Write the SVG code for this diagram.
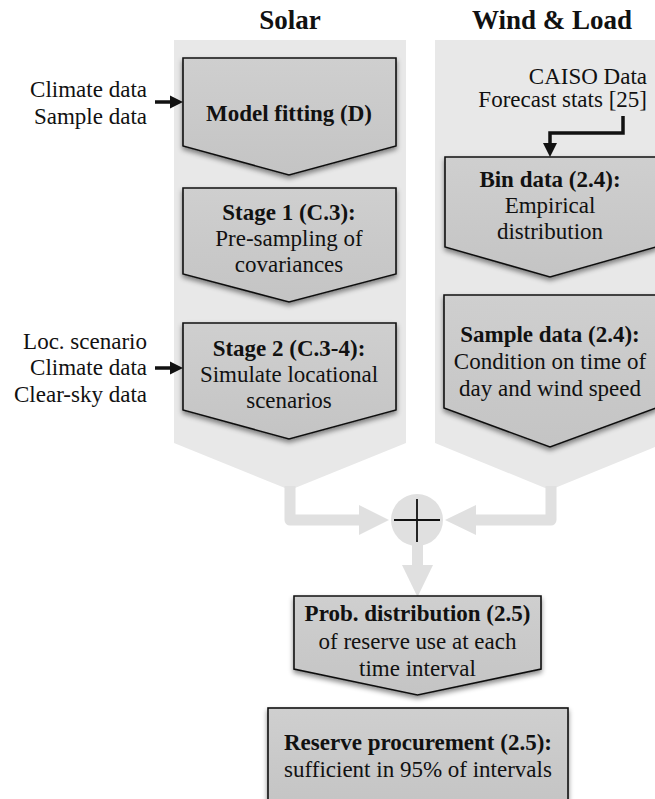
<svg xmlns="http://www.w3.org/2000/svg" width="655" height="799" viewBox="0 0 655 799">
<style>
  .t { font-family: "Liberation Serif", "Times New Roman", serif; font-size: 23px; fill: #111; }
  .b { font-weight: bold; }
  .title { font-family: "Liberation Serif", "Times New Roman", serif; font-size: 27px; font-weight: bold; fill: #111; }
  .panel { fill: #e8e8e8; }
  .box { fill: url(#boxg); stroke: #111; stroke-width: 1.6; filter: url(#sh); }
  .gconn { fill: none; stroke: #e0e0e0; stroke-width: 11; stroke-linejoin: round; }
  .ghead { fill: #e0e0e0; }
  .bconn { fill: none; stroke: #111; stroke-width: 3.5; }
  .bhead { fill: #111; }
</style>
<defs>
  <linearGradient id="boxg" x1="0" y1="0" x2="0" y2="1">
    <stop offset="0" stop-color="#cfcfcf"/>
    <stop offset="1" stop-color="#c4c4c4"/>
  </linearGradient>
  <filter id="sh" x="-10%" y="-10%" width="120%" height="130%">
    <feDropShadow dx="0" dy="3" stdDeviation="2.5" flood-color="#000" flood-opacity="0.45"/>
  </filter>
</defs>

<rect width="655" height="799" fill="#fff"/>

<g id="titles">
  <text class="title" x="290" y="29" text-anchor="middle">Solar</text>
  <text class="title" x="552" y="29" text-anchor="middle">Wind &amp; Load</text>
</g>

<g id="panel-solar">
  <polygon class="panel" points="174,40 406,40 406,443 290,490 174,443"/>
</g>
<g id="panel-wind">
  <polygon class="panel" points="435,40 665,40 665,443 550,490 435,443"/>
</g>

<g id="connectors">
  <path class="gconn" d="M290,486 V520 H362"/>
  <polygon class="ghead" points="359,505 389,520 359,535"/>
  <path class="gconn" d="M551,486 V520 H472"/>
  <polygon class="ghead" points="476,505 445,520 476,535"/>
  <path class="gconn" d="M417.5,540 V568"/>
  <polygon class="ghead" points="402,565 433,565 417.5,597"/>
  <path class="bconn" d="M155,102 H172"/>
  <polygon class="bhead" points="170,95.5 183,102 170,108.5"/>
  <path class="bconn" d="M155,368 H172"/>
  <polygon class="bhead" points="170,361.5 183,368 170,374.5"/>
  <path class="bconn" d="M623,116 V133 H550 V145" stroke-linejoin="miter"/>
  <polygon class="bhead" points="543,143 557,143 550,157"/>
</g>

<g id="sum">
  <circle cx="417" cy="520" r="26" fill="#e0e0e0"/>
  <path d="M394,520 H440 M417,499 V542" stroke="#111" stroke-width="1.8"/>
</g>

<g id="in-model">
  <text class="t" x="147" y="97" text-anchor="end">Climate data</text>
  <text class="t" x="147" y="124" text-anchor="end">Sample data</text>
</g>

<g id="model-fitting">
  <polygon class="box" points="183,58 396,58 396,146 289,175 183,146"/>
  <text class="t b" x="289" y="121" text-anchor="middle">Model fitting (D)</text>
</g>

<g id="stage1">
  <polygon class="box" points="183,188 396,188 396,274 289,302 183,274"/>
  <text class="t b" x="289" y="220" text-anchor="middle">Stage 1 (C.3):</text>
  <text class="t" x="289" y="246" text-anchor="middle">Pre-sampling of</text>
  <text class="t" x="289" y="272" text-anchor="middle">covariances</text>
</g>

<g id="in-stage2">
  <text class="t" x="147" y="349" text-anchor="end">Loc. scenario</text>
  <text class="t" x="147" y="375" text-anchor="end">Climate data</text>
  <text class="t" x="147" y="402" text-anchor="end">Clear-sky data</text>
</g>

<g id="stage2">
  <polygon class="box" points="183,323 396,323 396,410 289,439 183,410"/>
  <text class="t b" x="289" y="356" text-anchor="middle">Stage 2 (C.3-4):</text>
  <text class="t" x="289" y="382" text-anchor="middle">Simulate locational</text>
  <text class="t" x="289" y="408" text-anchor="middle">scenarios</text>
</g>

<g id="caiso">
  <text class="t" x="647" y="84" text-anchor="end">CAISO Data</text>
  <text class="t" x="647" y="107" text-anchor="end">Forecast stats [25]</text>
</g>

<g id="bin-data">
  <polygon class="box" points="445,157 656,157 656,247 550,277 445,247"/>
  <text class="t b" x="550" y="187" text-anchor="middle">Bin data (2.4):</text>
  <text class="t" x="550" y="213" text-anchor="middle">Empirical</text>
  <text class="t" x="550" y="239" text-anchor="middle">distribution</text>
</g>

<g id="sample-data">
  <polygon class="box" points="444,295 656,295 656,408 550,447 444,408"/>
  <text class="t b" x="550" y="342" text-anchor="middle">Sample data (2.4):</text>
  <text class="t" x="550" y="369" text-anchor="middle">Condition on time of</text>
  <text class="t" x="550" y="396" text-anchor="middle">day and wind speed</text>
</g>

<g id="prob-dist">
  <polygon class="box" points="294,596 541,596 541,669 417.5,695 294,669"/>
  <text class="t b" x="417.5" y="621" text-anchor="middle">Prob. distribution (2.5)</text>
  <text class="t" x="417.5" y="649" text-anchor="middle">of reserve use at each</text>
  <text class="t" x="417.5" y="676" text-anchor="middle">time interval</text>
</g>

<g id="reserve">
  <rect class="box" x="268" y="708" width="300" height="100"/>
  <text class="t b" x="418" y="750" text-anchor="middle">Reserve procurement (2.5):</text>
  <text class="t" x="418" y="777" text-anchor="middle">sufficient in 95% of intervals</text>
</g>
</svg>
